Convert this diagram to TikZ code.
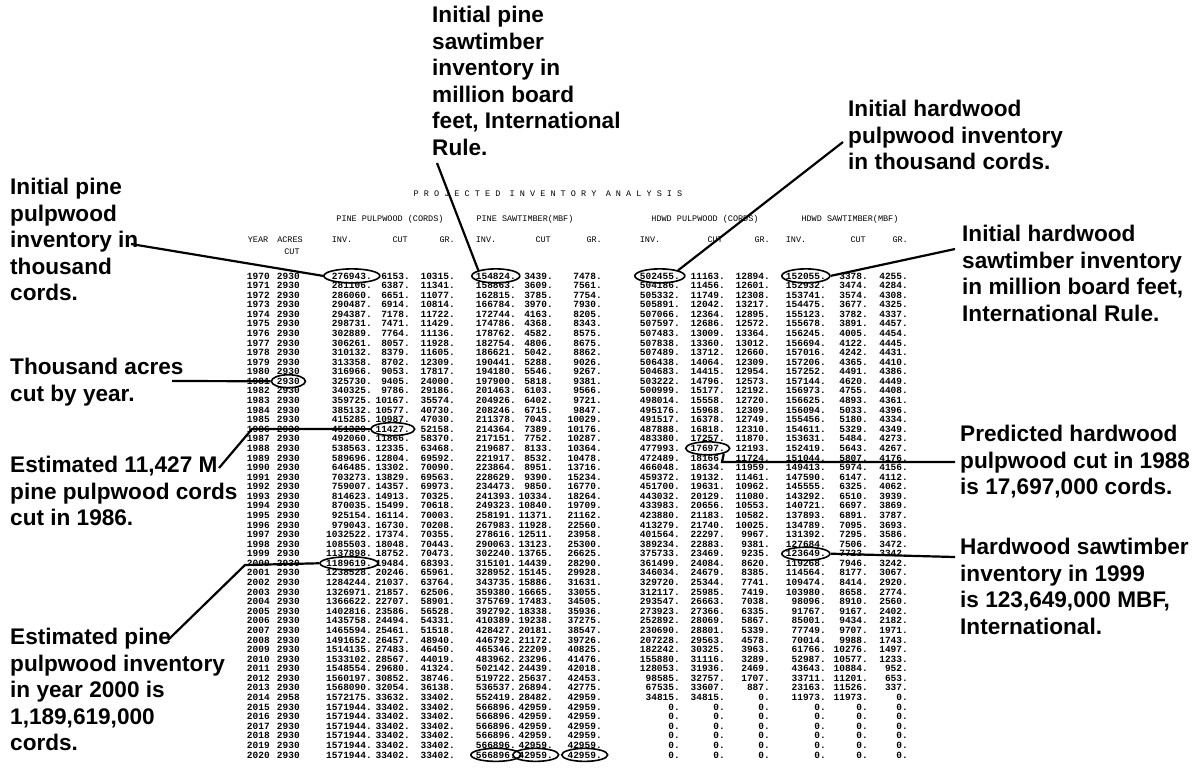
\documentclass[tikz,border=0pt]{standalone}
\usepackage{fontspec}
\setmainfont{Liberation Sans}
\setmonofont{Liberation Mono}
\usetikzlibrary{shapes.geometric}

\tikzset{
  note/.style={font=\bfseries\fontsize{22.6}{26.5}\selectfont, align=left, anchor=north west, inner sep=0pt},
  num/.style={font=\ttfamily\bfseries\fontsize{9.5}{9.5}\selectfont, anchor=base east, inner sep=0pt},
  head/.style={font=\ttfamily\fontsize{8.5}{8.5}\selectfont, anchor=base, inner sep=0pt},
  ring/.style={draw, ellipse, line width=1.6pt, inner sep=0pt},
  lead/.style={line width=2.2pt},
}

\begin{document}
\begin{tikzpicture}[x=1pt,y=-1pt]
\useasboundingbox (0,0) rectangle (1195,772);

% printout header
\node[head] (title) at (548,196) {P R O J E C T E D \enspace I N V E N T O R Y \enspace A N A L Y S I S};
\node[head] (hpp) at (390,221) {PINE PULPWOOD (CORDS)};
\node[head] (hps) at (525,221) {PINE SAWTIMBER(MBF)};
\node[head] (hhp) at (705,221) {HDWD PULPWOOD (CORDS)};
\node[head] (hhs) at (850,221) {HDWD SAWTIMBER(MBF)};
\node[head] (hyr) at (258,242) {YEAR};
\node[head] (hac) at (290,242) {ACRES};
\node[head] (hcu) at (292,254) {CUT};
\foreach \x in {372,516,680,826}{
  \node[head] at (\x-30,242) {INV.};
}
\foreach \x in {410,553,725,868}{
  \node[head,anchor=base east] at (\x-2,242) {CUT};
}
\foreach \x in {455,602,770,908}{
  \node[head,anchor=base east] at (\x,242) {GR.};
}

% table rows
\foreach \yr/\ac/\pa/\pb/\pc/\sa/\sb/\sc/\ha/\hb/\hc/\wa/\wb/\wc in {
1970/2930/276943/6153/10315/154824/3439/7478/502455/11163/12894/152055/3378/4255,
1971/2930/281106/6387/11341/158863/3609/7561/504186/11456/12601/152932/3474/4284,
1972/2930/286060/6651/11077/162815/3785/7754/505332/11749/12308/153741/3574/4308,
1973/2930/290487/6914/10814/166784/3970/7930/505891/12042/13217/154475/3677/4325,
1974/2930/294387/7178/11722/172744/4163/8205/507066/12364/12895/155123/3782/4337,
1975/2930/298731/7471/11429/174786/4368/8343/507597/12686/12572/155678/3891/4457,
1976/2930/302889/7764/11136/178762/4582/8575/507483/13009/13364/156245/4005/4454,
1977/2930/306261/8057/11928/182754/4806/8675/507838/13360/13012/156694/4122/4445,
1978/2930/310132/8379/11605/186621/5042/8862/507489/13712/12660/157016/4242/4431,
1979/2930/313358/8702/12309/190441/5288/9026/506438/14064/12309/157206/4365/4410,
1980/2930/316966/9053/17817/194180/5546/9267/504683/14415/12954/157252/4491/4386,
1981/2930/325730/9405/24000/197900/5818/9381/503222/14796/12573/157144/4620/4449,
1982/2930/340325/9786/29186/201463/6103/9566/500999/15177/12192/156973/4755/4408,
1983/2930/359725/10167/35574/204926/6402/9721/498014/15558/12720/156625/4893/4361,
1984/2930/385132/10577/40730/208246/6715/9847/495176/15968/12309/156094/5033/4396,
1985/2930/415285/10987/47030/211378/7043/10029/491517/16378/12749/155456/5180/4334,
1986/2930/451329/11427/52158/214364/7389/10176/487888/16818/12310/154611/5329/4349,
1987/2930/492060/11866/58370/217151/7752/10287/483380/17257/11870/153631/5484/4273,
1988/2930/538563/12335/63468/219687/8133/10364/477993/17697/12193/152419/5643/4267,
1989/2930/589696/12804/69592/221917/8532/10478/472489/18166/11724/151044/5807/4176,
1990/2930/646485/13302/70090/223864/8951/13716/466048/18634/11959/149413/5974/4156,
1991/2930/703273/13829/69563/228629/9390/15234/459372/19132/11461/147590/6147/4112,
1992/2930/759007/14357/69973/234473/9850/16770/451700/19631/10962/145555/6325/4062,
1993/2930/814623/14913/70325/241393/10334/18264/443032/20129/11080/143292/6510/3939,
1994/2930/870035/15499/70618/249323/10840/19709/433983/20656/10553/140721/6697/3869,
1995/2930/925154/16114/70003/258191/11371/21162/423880/21183/10582/137893/6891/3787,
1996/2930/979043/16730/70208/267983/11928/22560/413279/21740/10025/134789/7095/3693,
1997/2930/1032522/17374/70355/278616/12511/23958/401564/22297/9967/131392/7295/3586,
1998/2930/1085503/18048/70443/290063/13123/25300/389234/22883/9381/127684/7506/3472,
1999/2930/1137898/18752/70473/302240/13765/26625/375733/23469/9235/123649/7723/3342,
2000/2930/1189619/19484/68393/315101/14439/28290/361499/24084/8620/119268/7946/3242,
2001/2930/1238528/20246/65961/328952/15145/29928/346034/24679/8385/114564/8177/3067,
2002/2930/1284244/21037/63764/343735/15886/31631/329720/25344/7741/109474/8414/2920,
2003/2930/1326971/21857/62506/359380/16665/33055/312117/25985/7419/103980/8658/2774,
2004/2930/1366622/22707/58901/375769/17483/34505/293547/26663/7038/98096/8910/2560,
2005/2930/1402816/23586/56528/392792/18338/35936/273923/27366/6335/91767/9167/2402,
2006/2930/1435758/24494/54331/410389/19238/37275/252892/28069/5867/85001/9434/2182,
2007/2930/1465594/25461/51518/428427/20181/38547/230690/28801/5339/77749/9707/1971,
2008/2930/1491652/26457/48940/446792/21172/39726/207228/29563/4578/70014/9988/1743,
2009/2930/1514135/27483/46450/465346/22209/40825/182242/30325/3963/61766/10276/1497,
2010/2930/1533102/28567/44019/483962/23296/41476/155880/31116/3289/52987/10577/1233,
2011/2930/1548554/29680/41324/502142/24439/42018/128053/31936/2469/43643/10884/952,
2012/2930/1560197/30852/38746/519722/25637/42453/98585/32757/1707/33711/11201/653,
2013/2930/1568090/32054/36138/536537/26894/42775/67535/33607/887/23163/11526/337,
2014/2958/1572175/33632/33402/552419/28482/42959/34815/34815/0/11973/11973/0,
2015/2930/1571944/33402/33402/566896/42959/42959/0/0/0/0/0/0,
2016/2930/1571944/33402/33402/566896/42959/42959/0/0/0/0/0/0,
2017/2930/1571944/33402/33402/566896/42959/42959/0/0/0/0/0/0,
2018/2930/1571944/33402/33402/566896/42959/42959/0/0/0/0/0/0,
2019/2930/1571944/33402/33402/566896/42959/42959/0/0/0/0/0/0,
2020/2930/1571944/33402/33402/566896/42959/42959/0/0/0/0/0/0}{
  \pgfmathsetmacro\ry{279+9.58*(\yr-1970)}
  \node[num] (yr-\yr) at (270,\ry) {\yr};
  \node[num] (ac-\yr) at (300,\ry) {\ac};
  \node[num] (pa-\yr) at (372,\ry) {\pa.};
  \node[num] (pb-\yr) at (410,\ry) {\pb.};
  \node[num] (pc-\yr) at (455,\ry) {\pc.};
  \node[num] (sa-\yr) at (516,\ry) {\sa.};
  \node[num] (sb-\yr) at (553,\ry) {\sb.};
  \node[num] (sc-\yr) at (602,\ry) {\sc.};
  \node[num] (ha-\yr) at (680,\ry) {\ha.};
  \node[num] (hb-\yr) at (725,\ry) {\hb.};
  \node[num] (hc-\yr) at (770,\ry) {\hc.};
  \node[num] (wa-\yr) at (826,\ry) {\wa.};
  \node[num] (wb-\yr) at (868,\ry) {\wb.};
  \node[num] (wc-\yr) at (908,\ry) {\wc.};
}

% rings drawn by hand round the figures
\node[ring,minimum width=56,minimum height=14] (r-pa70) at (pa-1970.center) {};
\node[ring,minimum width=48,minimum height=14] (r-sa70) at (sa-1970.center) {};
\node[ring,minimum width=50,minimum height=14] (r-ha70) at (ha-1970.center) {};
\node[ring,minimum width=48,minimum height=14] (r-wa70) at (wa-1970.center) {};
\node[ring,minimum width=34,minimum height=13] (r-ac81) at (ac-1981.center) {};
\node[ring,minimum width=44,minimum height=13] (r-pb86) at (pb-1986.center) {};
\node[ring,minimum width=44,minimum height=13] (r-hb88) at (hb-1988.center) {};
\node[ring,minimum width=48,minimum height=13] (r-wa99) at (wa-1999.center) {};
\node[ring,minimum width=58,minimum height=13] (r-pa00) at (pa-2000.center) {};
\node[ring,minimum width=50,minimum height=13] (r-sa20) at (sa-2020.center) {};
\node[ring,minimum width=46,minimum height=13] (r-sb20) at (sb-2020.center) {};
\node[ring,minimum width=46,minimum height=13] (r-sc20) at (sc-2020.center) {};

% notes
\node[note] (n-ps) at (432,6) {Initial pine\\sawtimber\\inventory in\\million board\\feet, International\\Rule.};
\node[note] (n-pp) at (10,178) {Initial pine\\pulpwood\\inventory in\\thousand\\cords.};
\node[note] (n-hp) at (848,100) {Initial hardwood\\pulpwood inventory\\in thousand cords.};
\node[note] (n-hs) at (962,225) {Initial hardwood\\sawtimber inventory\\in million board feet,\\International Rule.};
\node[note] (n-ac) at (10,358) {Thousand acres\\cut by year.};
\node[note] (n-cut) at (10,456) {Estimated 11,427 M\\pine pulpwood cords\\cut in 1986.};
\node[note] (n-hb) at (960,425) {Predicted hardwood\\pulpwood cut in 1988\\is 17,697,000 cords.};
\node[note] (n-pa) at (10,628) {Estimated pine\\pulpwood inventory\\in year 2000 is\\1,189,619,000\\cords.};
\node[note] (n-wa) at (960,538) {Hardwood sawtimber\\inventory in 1999\\is 123,649,000 MBF,\\International.};

% leader lines
\coordinate (l-ps) at (437,163);
\coordinate (l-pp) at (131,244);
\coordinate (l-hp) at (843,142);
\coordinate (l-hs) at (955,249);
\coordinate (l-ac) at (172,381);
\coordinate (l-cut) at (219,468);
\coordinate (k-cut) at (252,429);
\coordinate (k-hb) at (722,462);
\coordinate (l-hb) at (955,462);
\coordinate (l-wa) at (955,557);
\coordinate (l-pa) at (168,640);
\coordinate (k-pa) at (245,565);
\draw[lead] (l-ps) -- (r-sa70.north west);
\draw[lead] (l-pp) -- (r-pa70.west);
\draw[lead] (l-hp) -- (r-ha70.north east);
\draw[lead] (l-hs) -- (r-wa70.east);
\draw[lead] (l-ac) -- (r-ac81.west);
\draw[lead] (l-cut) -- (k-cut) -- (r-pb86.west);
\draw[lead] (r-hb88.south east) -- (k-hb) -- (l-hb);
\draw[lead] (r-wa99.east) -- (l-wa);
\draw[lead] (l-pa) -- (k-pa) -- (r-pa00.west);
\end{tikzpicture}
\end{document}
